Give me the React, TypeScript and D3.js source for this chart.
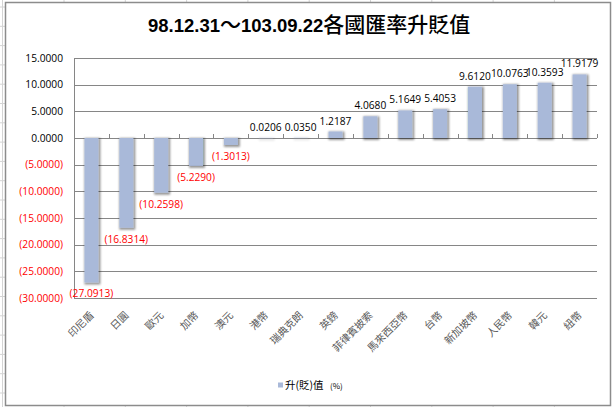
import React from "react";
import * as d3 from "d3";

const title = "98.12.31～103.09.22各國匯率升貶值";
const categories = ["印尼盾", "日圓", "歐元", "加幣", "澳元", "港幣", "瑞典克朗", "英鎊", "菲律賓披索", "馬來西亞幣", "台幣", "新加坡幣", "人民幣", "韓元", "紐幣"];
const values = [-27.0913, -16.8314, -10.2598, -5.229, -1.3013, 0.0206, 0.035, 1.2187, 4.068, 5.1649, 5.4053, 9.612, 10.0763, 10.3593, 11.9179];
const yTicks = [15, 10, 5, 0, -5, -10, -15, -20, -25, -30];
const legendLabel = "升(貶)值";
const legendUnit = "(%)";

const W = 612;
const H = 407;
const plot = { left: 74, right: 597, top: 58, bottom: 298 };
const barColor = "#A9B9D9";
const gridColor = "#868686";
const numFont = "'Open Sans', 'Liberation Sans', sans-serif";
const cjkFont = "'Noto Sans CJK TC', 'Noto Sans CJK SC', sans-serif";

const fmt = (v: number) => (v < 0 ? `(${Math.abs(v).toFixed(4)})` : v.toFixed(4));

export default function App() {
  const y = d3.scaleLinear().domain([-30, 15]).range([plot.bottom, plot.top]);
  const xStep = d3.scaleBand<string>().domain(categories).range([plot.left, plot.right]).padding(0);
  const xBar = d3
    .scaleBand<string>()
    .domain(categories)
    .range([plot.left, plot.right])
    .paddingInner(0.6)
    .paddingOuter(0.3);
  const step = xStep.step();
  const y0 = y(0);

  const rowLines = d3.range(7, H, 19.3);
  const colLines = d3.range(64, W, 61.3);

  const titleParts: { t: string; cjk: boolean }[] = [];
  let buf = "";
  let mode: boolean | null = null;
  for (const ch of title) {
    const isCjk = /[^\x00-\x7F]/.test(ch);
    if (mode === null || mode === isCjk) {
      buf += ch;
    } else {
      titleParts.push({ t: buf, cjk: mode });
      buf = ch;
    }
    mode = isCjk;
  }
  if (buf) titleParts.push({ t: buf, cjk: !!mode });

  return (
    <svg
      width={W}
      height={H}
      style={{ position: "absolute", left: 0, top: 0, display: "block", background: "#fff" }}
    >
      <defs>
        <filter id="shadow" filterUnits="userSpaceOnUse" x={0} y={0} width={W} height={H}>
          <feMorphology in="SourceAlpha" operator="dilate" radius={1} result="d" />
          <feGaussianBlur in="d" stdDeviation={0.9} result="b" />
          <feOffset in="b" dx={1.2} dy={1.4} result="o" />
          <feComponentTransfer in="o" result="s">
            <feFuncA type="linear" slope={0.42} />
          </feComponentTransfer>
          <feMerge>
            <feMergeNode in="s" />
            <feMergeNode in="SourceGraphic" />
          </feMerge>
        </filter>
      </defs>

      <g stroke="#D4D4D4" strokeWidth={1}>
        <line x1={2.5} y1={0} x2={2.5} y2={H} />
        {rowLines.map((ry, i) => (
          <line key={"r" + i} x1={0} x2={5} y1={ry} y2={ry} />
        ))}
        {colLines.map((cx, i) => (
          <g key={"c" + i}>
            <line x1={cx} x2={cx} y1={0} y2={2} />
            <line x1={cx} x2={cx} y1={405} y2={H} />
          </g>
        ))}
      </g>

      <rect x={5.5} y={2.5} width={605} height={403} fill="#fff" stroke="#8C8C8C" strokeWidth={1.5} />

      <text x={148} y={32} fontSize={19}>
        {titleParts.map((p, i) =>
          p.cjk ? (
            <tspan key={i} fontFamily={cjkFont} fontSize={21} fontWeight={500} fill="#000">
              {p.t}
            </tspan>
          ) : (
            <tspan key={i} fontFamily="'Liberation Sans', Arial, sans-serif" fontWeight={700} fontSize={18.5} fill="#000">
              {p.t}
            </tspan>
          )
        )}
      </text>

      <g>
        {yTicks.map((t) => (
          <line
            key={t}
            x1={plot.left}
            x2={plot.right}
            y1={Math.round(y(t)) + 0.5}
            y2={Math.round(y(t)) + 0.5}
            stroke={gridColor}
            strokeWidth={1}
          />
        ))}
        <line
          x1={plot.left + 0.5}
          x2={plot.left + 0.5}
          y1={plot.top}
          y2={plot.bottom}
          stroke={gridColor}
          strokeWidth={1}
        />
      </g>

      <g fontFamily={numFont} fontSize={10.2} textAnchor="end">
        {yTicks.map((t) => (
          <text key={t} x={63} y={y(t) + 3.6} fill={t < 0 ? "#FF0000" : "#000"}>
            {fmt(t)}
          </text>
        ))}
      </g>

      <g stroke={gridColor} strokeWidth={1}>
        {categories.map((c) => {
          const tx = Math.round((xStep(c) as number) + step) + 0.5;
          return <line key={c} x1={tx} x2={tx} y1={y0 - 4} y2={y0} />;
        })}
      </g>

      <g filter="url(#shadow)">
        {categories.map((c, i) => {
          const v = values[i];
          const top = Math.min(y(v), y0);
          const h = Math.abs(y(v) - y0);
          return <rect key={c} x={xBar(c)} y={top} width={xBar.bandwidth()} height={Math.max(h, 0.3)} fill={barColor} />;
        })}
      </g>

      <g fontFamily={numFont} fontSize={10.2} textAnchor="middle">
        {categories.map((c, i) => {
          const v = values[i];
          const cx = (xBar(c) as number) + xBar.bandwidth() / 2;
          const ly = v < 0 ? y(v) + 15 : y(v) - 7;
          return (
            <text key={c} x={cx} y={ly} fill={v < 0 ? "#FF0000" : "#000"}>
              {fmt(v)}
            </text>
          );
        })}
      </g>

      <g fontFamily={cjkFont} fontSize={10.3} fill="#595959" textAnchor="end">
        {categories.map((c) => {
          const cx = (xStep(c) as number) + step / 2 + 3;
          return (
            <text key={c} transform={`translate(${cx},${316}) rotate(-45)`}>
              {c}
            </text>
          );
        })}
      </g>

      <g>
        <rect x={278} y={382.5} width={5} height={5} fill={barColor} />
        <text x={285} y={389} fontFamily={cjkFont} fontSize={10.5} fill="#000">
          {legendLabel}
        </text>
        <text x={330} y={389} fontFamily={cjkFont} fontSize={8} fill="#000">
          {legendUnit}
        </text>
      </g>
    </svg>
  );
}
